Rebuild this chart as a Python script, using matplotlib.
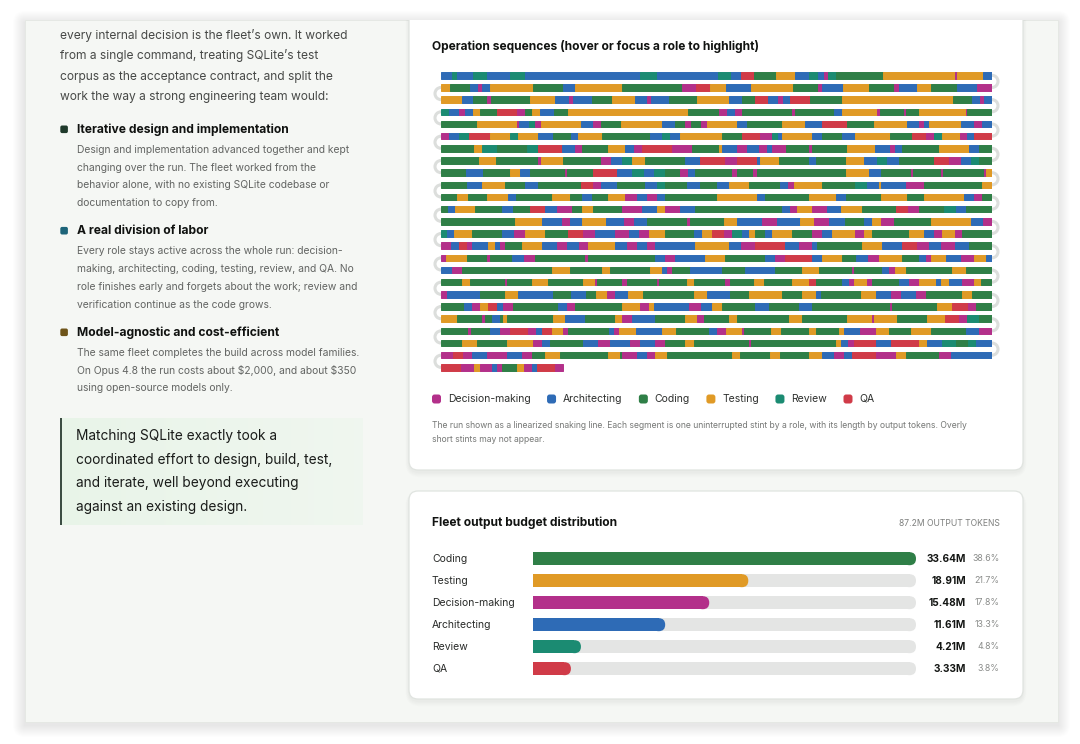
import matplotlib
matplotlib.use("Agg")
import matplotlib.pyplot as plt
from matplotlib.patches import FancyBboxPatch, Rectangle, Arc
from matplotlib import transforms
import numpy as np

plt.rcParams['font.family'] = ['Inter', 'DejaVu Sans']

# ---------------- data ----------------
ROLE_NAMES = ["Decision-making", "Architecting", "Coding", "Testing", "Review", "QA"]
ROLE_CODES = ["D", "A", "C", "T", "R", "Q"]
ROLE_COLORS = ["#b3308a", "#2e6bb6", "#2f7f47", "#e09a26", "#1b8b72", "#d03b48"]

# Snaking sequence, one string per visual row: role code + stint length (output-token units)
SNAKE_ROWS = [
    "A11 R5 A16 R14 A23 R15 A115 R17 A62 R13 A10 Q13 C22 T19 A14 R9 A6 D4 R8 C47 T72 D2 T26 A9",
    "T9 C20 A8 D4 A8 T43 C30 A12 T47 C60 D14 Q14 T15 A25 T42 C25 D4 A21 T26 C25 D5 A18 T14 C26 A20 D15",
    "T21 A11 C14 D4 C39 T25 A14 D4 A19 C20 T23 A12 D4 A18 C28 T32 A13 C13 Q13 A10 D5 A7 Q20 C32 T111 C19 A8 D4 A8",
    "R8 A10 D6 A8 T7 C17 Q20 D8 C7 T8 A14 C14 T120 C30 D8 A8 D7 C50 D3 C39 A8 T35 D3 C24 D2 C13 T47 D1 C25",
    "C36 T40 D2 A10 R6 D6 T40 A12 D8 C20 T41 A13 C10 D6 C10 D6 T30 A10 C35 T23 A17 Q25 C27 T33 A12 D5 A5 T32 A13 D8 A10",
    "D8 A10 R10 Q21 T20 R8 T20 A15 C18 A7 T24 C48 A12 R8 A10 T42 C20 Q18 D12 R6 A4 T30 A10 C20 A13 T35 C22 Q14 D8 R8 T18 D7 A7 Q18",
    "C33 T8 R15 C30 R11 Q24 A13 D7 C26 T17 A9 D8 Q30 D20 C27 T3 A15 D10 A12 D8 A5 D14 C23 D3 C35 T28 A15 D5 A7 C37 T30 A10 C13",
    "C38 T17 C42 D3 T22 C38 D10 A11 R10 T13 C40 A15 Q25 D12 Q20 A3 T19 C30 A7 C30 T18 A13 R10 A12 C35 Q15 D12 A10 R8 C13",
    "C25 A17 C27 T10 A10 C35 D2 C26 Q24 A15 R12 A10 R11 C15 D8 A7 C37 D5 C16 D4 C89 T23 A12 C30 D2 C28 D2 C41 D2 T6",
    "C26 A15 T23 C20 A13 C43 Q12 D8 A16 C28 A12 R8 C22 A13 C17 A12 T20 C31 A8 D6 T28 C33 R12 A12 T2 A25 D18 C58 T10",
    "C16 T11 C19 T21 A8 C36 T18 C12 A10 C16 T17 D12 A10 D10 A8 C52 T40 A8 C44 T27 A10 C35 T26 C17 T40 A10 D8 C10",
    "C7 A7 T20 C27 A11 C17 Q15 A12 D15 C10 T11 C29 D20 A15 T8 D15 A15 C87 A8 D7 T15 D15 A14 T21 C34 Q12 D11 C25 R12 A10 C26",
    "C74 T27 A20 D8 A12 T24 A18 D10 A13 C40 D3 C34 T13 A25 D15 A23 T14 D15 A16 C19 A8 T9 D13 C37 T40 A12 D9",
    "R6 A7 T18 C30 A12 D11 T20 C23 Q15 D12 A20 D14 A10 D10 T16 C29 A8 T10 Q12 D8 R10 A7 T6 C10 A7 T20 C20 D10 A10 T23 D9 T8 C37 T15 A10 D8 T13 D7 C30",
    "D10 A8 Q8 D5 A16 T7 A5 D5 C17 T20 A15 D10 A12 D9 T27 A12 D10 A10 D8 A40 T34 A12 D14 Q30 A14 D13 A5 C45 T20 A20 Q15 D12 A12 D14 A14 C23",
    "D5 T21 C20 D3 C22 A12 D11 C50 D3 C67 A10 D10 A30 T20 C40 A10 D10 Q27 A10 T20 C14 A12 D11 T23 C17 A7 D5 T15 A15 D13 T12 A6",
    "A11 D10 C90 T18 C32 T8 C40 T12 A5 D5 C18 A32 C23 A30 C27 T17 C33 D2 C28 A7 D6 T11 C46 T14 C26",
    "C21 T8 C35 D2 C25 T16 C35 T12 D2 C25 D5 C30 D2 C28 T7 C31 D5 C24 T10 C28 T17 Q7 C26 A7 D5 T13 D5 C27 A10 D10 T17 A5 T8 A13 D12 T7 C11",
    "D6 A33 C25 T13 A35 C18 A15 C10 T11 D8 A13 T15 C51 T13 A23 C19 T33 C20 T14 A5 C40 T15 A15 D10 A15 D10 C36 T10 C20",
    "C23 A8 D8 T8 Q9 A6 D10 C45 A9 D8 C47 T18 D9 T5 A35 D12 A11 T10 C33 A14 C30 A13 C78 D2 C45 T15 Q16 D8 C16",
    "T16 C25 D3 C7 A8 C3 T4 C46 T12 A20 C30 T7 D10 A23 C30 T12 D7 C25 T8 C52 T13 C45 T25 D2 T23 C30 T18 Q14 D8 R12 C13",
    "C27 D3 C19 A10 D10 Q18 D8 A6 Q10 T11 D5 C41 A5 D5 T17 A26 T14 C33 A8 D9 T16 D2 C27 T10 C28 T7 C23 T5 A16 D16 T13 C22 T20 C35 A13 D13",
    "C21 T15 C30 T26 D9 A8 C33 A15 D12 A20 D10 A15 D10 C20 T9 C55 D2 C85 T5 A7 D6 Q22 A15 Q28 T8 A15 R14 C12 R8 A16",
    "D12 Q10 D9 A15 D20 A15 D10 C13 T15 C48 T12 C2 D15 A10 D8 T12 C65 T8 C30 T10 C29 T13 A12 D10 A8 Q24 D20 T10 C33 D12 A41",
    "Q20 D13 T6 D12 A5 D5 C15 T7 D8 A5 Q18 D8",
]
ROW_CAPACITY = 551

BUDGET_ROLES = ["Coding", "Testing", "Decision-making", "Architecting", "Review", "QA"]
BUDGET_MTOK = [33.64, 18.91, 15.48, 11.61, 4.21, 3.33]
BUDGET_PCT = [38.6, 21.7, 17.8, 13.3, 4.8, 3.8]
TOTAL_LABEL = "87.2M OUTPUT TOKENS"

INTRO_LINES = [
    "every internal decision is the fleet\u2019s own. It worked",
    "from a single command, treating SQLite\u2019s test",
    "corpus as the acceptance contract, and split the",
    "work the way a strong engineering team would:",
]
BULLETS = [
    ("Iterative design and implementation", "#1f3a2b",
     ["Design and implementation advanced together and kept",
      "changing over the run. The fleet worked from the",
      "behavior alone, with no existing SQLite codebase or",
      "documentation to copy from."]),
    ("A real division of labor", "#1d6479",
     ["Every role stays active across the whole run: decision-",
      "making, architecting, coding, testing, review, and QA. No",
      "role finishes early and forgets about the work; review and",
      "verification continue as the code grows."]),
    ("Model-agnostic and cost-efficient", "#6e5419",
     ["The same fleet completes the build across model families.",
      "On Opus 4.8 the run costs about $2,000, and about $350",
      "using open-source models only."]),
]
QUOTE_LINES = [
    "Matching SQLite exactly took a",
    "coordinated effort to design, build, test,",
    "and iterate, well beyond executing",
    "against an existing design.",
]
SNAKE_TITLE = "Operation sequences (hover or focus a role to highlight)"
SNAKE_CAPTION = [
    "The run shown as a linearized snaking line. Each segment is one uninterrupted stint by a role, with its length by output tokens. Overly",
    "short stints may not appear.",
]
BUDGET_TITLE = "Fleet output budget distribution"

# ---------------- figure ----------------
W, H = 1080, 744
fig = plt.figure(figsize=(W / 100, H / 100), dpi=100, facecolor="white")
bg = fig.add_axes([0, 0, 1, 1], zorder=0)
bg.set_xlim(0, W)
bg.set_ylim(H, 0)
bg.axis("off")
renderer = fig.canvas.get_renderer()


def fitted(sample, target, weight="normal"):
    t = fig.text(0, 0, sample, fontsize=10, fontweight=weight, parse_math=False)
    w = t.get_window_extent(renderer).width
    t.remove()
    return 10 * target / w


def txt(x, y, s, size, color, weight="normal", ha="left", va="center", **kw):
    return bg.text(x, y, s, fontsize=size, color=color, fontweight=weight,
                   ha=ha, va=va, parse_math=False, **kw)


# page + shadow
PX0, PY0, PX1, PY1 = 25, 20, 1058, 722
for d in range(12, 0, -1):
    bg.add_patch(FancyBboxPatch((PX0 - d, PY0 - d + 3), (PX1 - PX0) + 2 * d, (PY1 - PY0) + 2 * d,
                                boxstyle=f"round,pad=0,rounding_size={d}", fc="black", ec="none",
                                alpha=0.006, zorder=0))
page = Rectangle((PX0, PY0), PX1 - PX0, PY1 - PY0, fc="#f5f7f4", ec="#e4e7e3", lw=0.6, zorder=1)
bg.add_patch(page)

# cards
def card(x, y, w, h):
    for d in range(6, 0, -1):
        p = FancyBboxPatch((x - d * 0.6, y - d * 0.3 + 2), w + 1.2 * d, h + 1.2 * d,
                           boxstyle=f"round,pad=0,rounding_size={9 + d}", fc="black", ec="none",
                           alpha=0.008, zorder=2)
        bg.add_patch(p)
        p.set_clip_path(page)
    c = FancyBboxPatch((x, y), w, h, boxstyle="round,pad=0,rounding_size=9",
                       fc="white", ec="#e0e4e0", lw=0.9, zorder=3)
    bg.add_patch(c)
    c.set_clip_path(page)

card(409, -30, 614, 500)
card(409, 491, 614, 208)

# left column text
PARA = fitted(INTRO_LINES[0], 289)
BT = fitted(BULLETS[0][0], 212, "bold")
BODY = fitted(BULLETS[0][2][0], 275)
QS = fitted(QUOTE_LINES[1], 258)

for i, line in enumerate(INTRO_LINES):
    txt(60, 35 + 20.8 * i, line, PARA, "#474947", zorder=5)

bullet_y = [129.3, 230.7, 332.3]
for (title, col, body), by in zip(BULLETS, bullet_y):
    bg.add_patch(FancyBboxPatch((60.3, by - 3.8), 7.6, 7.6, boxstyle="round,pad=0,rounding_size=1.8",
                                fc=col, ec="none", zorder=5))
    txt(77, by, title, BT, "#101210", "bold", zorder=5)
    for j, line in enumerate(body):
        txt(77, by + 20.5 + 17.8 * j, line, BODY, "#636563", zorder=5)

# quote box
grad = np.linspace(0, 1, 256)[None, :, None]
c0 = np.array([0.912, 0.958, 0.912])
c1 = np.array([0.940, 0.966, 0.938])
img = c0 * (1 - grad) + c1 * grad
bg.imshow(img, extent=(60, 363, 525, 418), aspect="auto", zorder=4, interpolation="bilinear")
bg.set_xlim(0, W)
bg.set_ylim(H, 0)
bg.add_patch(Rectangle((59.5, 418), 2.4, 107, fc="#3c4d43", ec="none", zorder=5))
for i, line in enumerate(QUOTE_LINES):
    txt(76, 436 + 23.6 * i, line, QS, "#1a1c1a", zorder=5)

# ---------------- snake chart ----------------
CT = fitted(SNAKE_TITLE, 327, "bold")
txt(432, 46.5, SNAKE_TITLE, CT, "#111311", "bold", zorder=5)

nrows = len(SNAKE_ROWS)
pitch = 12.17
row0 = 75.3
top = row0 - pitch / 2
hgt = nrows * pitch
sx0 = 441
sax = fig.add_axes([sx0 / W, 1 - (top + hgt) / H, ROW_CAPACITY / W, hgt / H], zorder=3)
sax.set_xlim(0, ROW_CAPACITY)
sax.set_ylim(nrows - 0.5, -0.5)
sax.axis("off")

code_color = dict(zip(ROLE_CODES, ROLE_COLORS))
for i, row in enumerate(SNAKE_ROWS):
    segs = [(s[0], float(s[1:])) for s in row.split()]
    lens = np.array([l for _, l in segs])
    if i < nrows - 1:
        lens = lens * ROW_CAPACITY / lens.sum()
    starts = np.concatenate([[0], np.cumsum(lens)[:-1]])
    cols = [code_color[c] for c, _ in segs]
    sax.barh(np.full(len(lens), i), lens, left=starts, height=0.53, color=cols,
             edgecolor=cols, linewidth=0.7, zorder=3)

# connectors of the snaking line
for i in range(nrows - 1):
    if i % 2 == 0:
        a = Arc((ROW_CAPACITY, i + 0.5), 12, 1.0, theta1=-90, theta2=90)
    else:
        a = Arc((0, i + 0.5), 12, 1.0, theta1=90, theta2=270)
    a.set(color="#dcdedc", lw=2.2, clip_on=False, zorder=1)
    sax.add_patch(a)

# legend
LEG = fitted("Decision-making", 84)
lx = 432
for name, col in zip(ROLE_NAMES, ROLE_COLORS):
    bg.add_patch(FancyBboxPatch((lx, 399 - 4.5), 9, 9, boxstyle="round,pad=0,rounding_size=2.6",
                                fc=col, ec="none", zorder=5))
    t = txt(lx + 15.7, 399, name, LEG, "#2e302e", zorder=5)
    w = t.get_window_extent(renderer).width
    lx = lx + 15.7 + w + 16.6

CAP = fitted(SNAKE_CAPTION[0], 545)
for i, line in enumerate(SNAKE_CAPTION):
    txt(432, 425 + 14.5 * i, line, CAP, "#767876", zorder=5)

# ---------------- budget bars ----------------
BTS = fitted(BUDGET_TITLE, 185, "bold")
txt(432, 522.3, BUDGET_TITLE, BTS, "#111311", "bold", zorder=5)
TK = fitted(TOTAL_LABEL, 101)
txt(999.5, 524, TOTAL_LABEL, TK, "#7d7f7d", ha="right", zorder=5)

nb = len(BUDGET_MTOK)
bpitch = 22.0
btop = 558.7 - bpitch / 2
bx0, bx1 = 533, 916
bax = fig.add_axes([bx0 / W, 1 - (btop + nb * bpitch) / H, (bx1 - bx0) / W, nb * bpitch / H], zorder=3)
vmax = max(BUDGET_MTOK)
bax.set_xlim(0, vmax)
bax.set_ylim(nb - 0.5, -0.5)
bax.axis("off")
bar_px = 13.0
px_per_x = (bx1 - bx0) / vmax          # pixels per data unit along x
px_per_y = bpitch                      # pixels per row
rad_x = (bar_px / 2) / px_per_x        # corner radius in x data units
aspect = px_per_x / px_per_y           # y-data per x-data for a circular corner
hrow = bar_px / px_per_y
name_color = dict(zip(ROLE_NAMES, ROLE_COLORS))


def rbar(i, v, color, z):
    # square left end, rounded right end (pill cap at the value end)
    bax.add_patch(Rectangle((0, i - hrow / 2), v - rad_x, hrow, fc=color, ec="none", zorder=z))
    bax.add_patch(FancyBboxPatch((v - 2 * rad_x, i - hrow / 2), 2 * rad_x, hrow,
                                 boxstyle=f"round,pad=0,rounding_size={rad_x}",
                                 mutation_aspect=aspect, fc=color, ec="none", zorder=z))


for i, (name, v) in enumerate(zip(BUDGET_ROLES, BUDGET_MTOK)):
    rbar(i, vmax, "#e4e5e4", 2)
    rbar(i, v, name_color[name], 3)

LBL = fitted("Decision-making", 84)
VAL = fitted("33.64M", 39, "bold")
PCT = fitted("38.6%", 27.5)
tr = transforms.blended_transform_factory(bg.transData, bax.transData)
for i, (name, v, p) in enumerate(zip(BUDGET_ROLES, BUDGET_MTOK, BUDGET_PCT)):
    bg.text(432, i, name, transform=tr, fontsize=LBL, color="#2a2c2a", va="center", ha="left", zorder=5)
    bg.text(966, i, f"{v:.2f}M", transform=tr, fontsize=VAL, color="#141614", fontweight="bold",
            va="center", ha="right", zorder=5)
    bg.text(999.5, i, f"{p:.1f}%", transform=tr, fontsize=PCT, color="#8a8c8a", va="center",
            ha="right", zorder=5)

fig.savefig("out.png", dpi=100, facecolor="white")
